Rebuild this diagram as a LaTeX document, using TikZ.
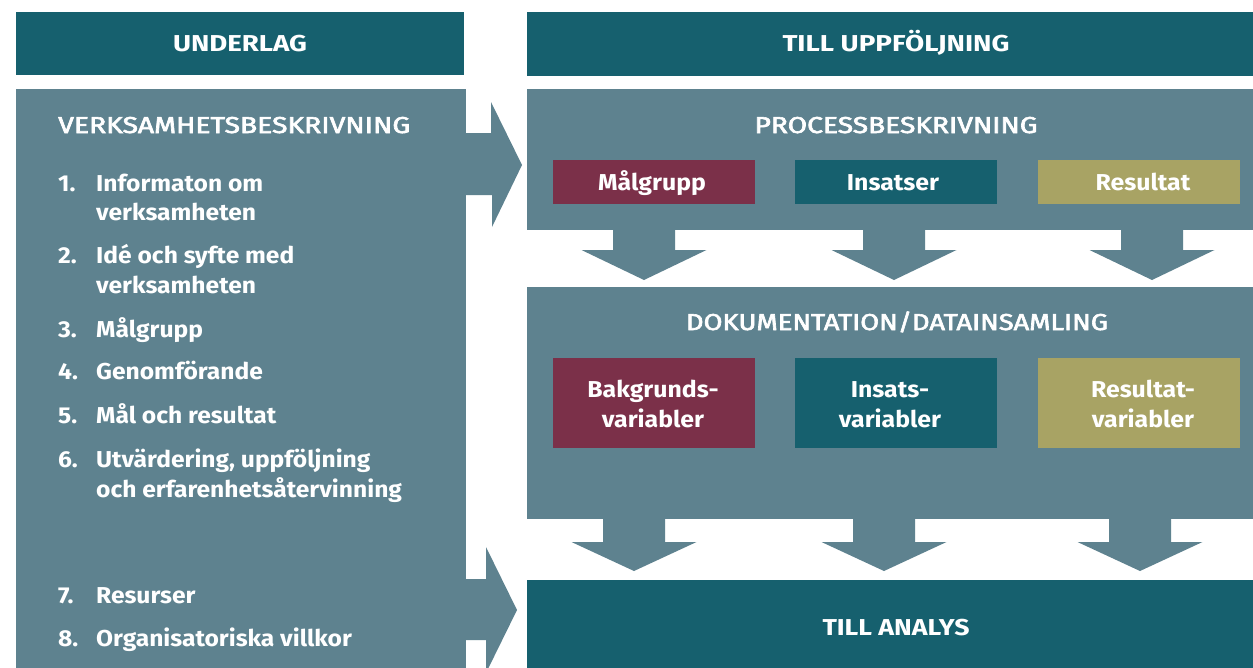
\documentclass[tikz,border=0pt]{standalone}
\usepackage{fontspec}
\usepackage{graphicx}
\setmainfont{Fira Sans}
\newfontfamily\medfont[FakeBold=2.5]{Fira Sans}
\usetikzlibrary{calc}
\definecolor{dteal}{RGB}{22,96,110}
\definecolor{panel}{RGB}{94,130,143}
\definecolor{maroon}{RGB}{123,48,73}
\definecolor{olive}{RGB}{168,163,100}
\newcommand\blockdown[4]{%
  \fill[panel] (#1-31,#2) -- (#1-31,#3) -- (#1-62.5,#3) -- (#1,#4) -- (#1+62.5,#3) -- (#1+31,#3) -- (#1+31,#2) -- cycle;}
\newcommand\wto[2]{\resizebox{#1pt}{\height}{#2}}
\newcommand\itm[1]{\scalebox{1.07}[1]{#1}}
\newcommand\bxl[1]{\scalebox{1.08}[1]{#1}}
\begin{document}
\begin{tikzpicture}[x=1pt,y=-1pt,
  box/.style={inner sep=0pt, outer sep=0pt, anchor=north west},
  ttl/.style={text=white, font=\fontsize{23}{27}\selectfont\bfseries, inner sep=0pt, anchor=base},
  sub/.style={text=white, font=\fontsize{23}{27}\selectfont\medfont, inner sep=0pt, anchor=base},
  lbl/.style={text=white, font=\fontsize{23}{27}\selectfont\bfseries, inner sep=0pt, anchor=base},
  item/.style={text=white, font=\fontsize{23}{27}\selectfont\bfseries, inner sep=0pt, anchor=base west},
]
\clip (0,0) rectangle (1253,667);
\fill[white] (0,0) rectangle (1253,667);
% headers
\node[box, fill=dteal, minimum width=448pt, minimum height=63pt] (under) at (16,12) {};
\node[box, fill=dteal, minimum width=740pt, minimum height=64pt] (till) at (527,12) {};
\node[ttl] at (240,51) {\wto{134}{UNDERLAG}};
\node[ttl] at (896,51) {\wto{227}{TILL UPPFÖLJNING}};
% left panel
\node[box, fill=panel, minimum width=450pt, minimum height=580pt] (left) at (16,89) {};
\fill[panel] (460,133) -- (491,133) -- (491,102) -- (522,165) -- (492,227) -- (492,195) -- (460,195) -- cycle;
\fill[panel] (460,579) -- (486,579) -- (486,547) -- (517,610) -- (486,673) -- (486,640) -- (460,640) -- cycle;
% right boxes
\node[box, fill=panel, minimum width=740pt, minimum height=141pt] (proc) at (527,89) {};
\node[box, fill=panel, minimum width=740pt, minimum height=232pt] (doc) at (527,287) {};
\node[box, fill=dteal, minimum width=740pt, minimum height=90pt] (ana) at (527,580) {};
% arrows between
\blockdown{644}{229}{250}{280}
\blockdown{894}{229}{250}{280}
\blockdown{1152}{229}{250}{280}
\blockdown{634}{518}{542}{571}
\blockdown{884}{518}{542}{571}
\blockdown{1140}{518}{542}{571}
% coloured boxes
\node[box, fill=maroon, minimum width=202pt, minimum height=44pt] (mg) at (553,160) {};
\node[box, fill=dteal, minimum width=202pt, minimum height=44pt] (ins) at (795,160) {};
\node[box, fill=olive, minimum width=202pt, minimum height=44pt] (res) at (1038,160) {};
\node[box, fill=maroon, minimum width=202pt, minimum height=90pt] (bv) at (553,358) {};
\node[box, fill=dteal, minimum width=202pt, minimum height=90pt] (iv) at (795,358) {};
\node[box, fill=olive, minimum width=202pt, minimum height=90pt] (rv) at (1038,358) {};
% texts
\node[sub] at (896,133) {\wto{283}{PROCESSBESKRIVNING}};
\node[sub] at (897,330) {\wto{422}{DOKUMENTATION/DATAINSAMLING}};
\node[ttl] at (896,635) {\wto{147}{TILL ANALYS}};
\node[lbl] at (652,190) {\bxl{Målgrupp}};
\node[lbl] at (893,190) {\bxl{Insatser}};
\node[lbl] at (1143,190) {\bxl{Resultat}};
\node[lbl] at (653,397) {\bxl{Bakgrunds-}};
\node[lbl] at (653,427) {\bxl{variabler}};
\node[lbl] at (890,397) {\bxl{Insats-}};
\node[lbl] at (890,427) {\bxl{variabler}};
\node[lbl] at (1143,397) {\bxl{Resultat-}};
\node[lbl] at (1143,427) {\bxl{variabler}};
% left texts
\node[item, font=\fontsize{23}{27}\selectfont\medfont] at (58,133) {\wto{352}{VERKSAMHETSBESKRIVNING}};
\node[item] at (58,191) {\itm{1.}};
\node[item] at (96,191) {\itm{Informaton om}};
\node[item] at (96,220) {\itm{verksamheten}};
\node[item] at (58,263) {\itm{2.}};
\node[item] at (96,263) {\itm{Idé och syfte med}};
\node[item] at (96,293) {\itm{verksamheten}};
\node[item] at (58,337) {\itm{3.}};
\node[item] at (96,337) {\itm{Målgrupp}};
\node[item] at (58,379) {\itm{4.}};
\node[item] at (96,379) {\itm{Genomförande}};
\node[item] at (58,423) {\itm{5.}};
\node[item] at (96,423) {\itm{Mål och resultat}};
\node[item] at (58,467) {\itm{6.}};
\node[item] at (96,467) {\itm{Utvärdering, uppföljning}};
\node[item] at (96,497) {\itm{och erfarenhetsåtervinning}};
\node[item] at (58,603) {\itm{7.}};
\node[item] at (96,603) {\itm{Resurser}};
\node[item] at (58,646) {\itm{8.}};
\node[item] at (96,646) {\itm{Organisatoriska villkor}};
\end{tikzpicture}
\end{document}
